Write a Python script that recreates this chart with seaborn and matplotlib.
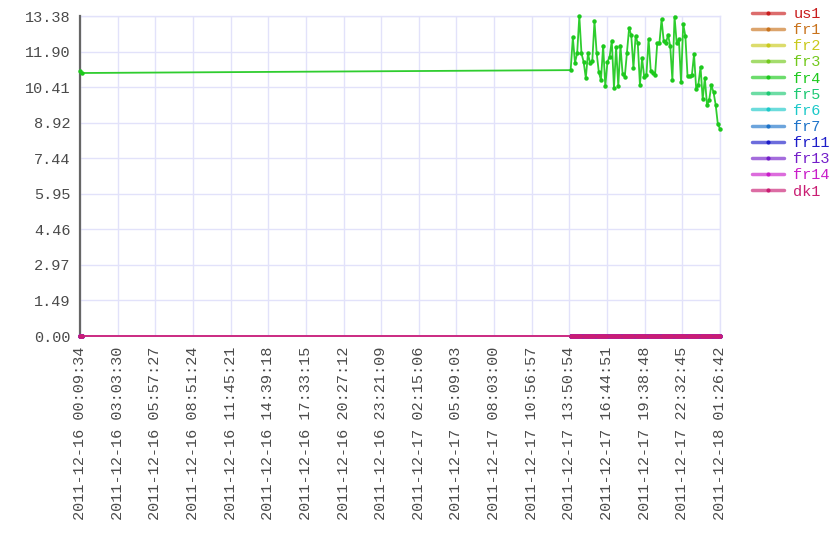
import matplotlib
matplotlib.use("Agg")
import matplotlib.pyplot as plt
from matplotlib.lines import Line2D
import matplotlib.colors as mcolors
import seaborn as sns
import pandas as pd
import numpy as np

# Series (servers) in legend order
servers = ["us1", "fr1", "fr2", "fr3", "fr4", "fr5", "fr6", "fr7",
           "fr11", "fr13", "fr14", "dk1"]

# Sample times: two early samples, then a run every 10 minutes
early_times = ["2011-12-16 00:09:34", "2011-12-16 00:19:34"]
late_start = "2011-12-17 13:56:42"
late_count = 70

# fr4 is the only server with non-zero values
fr4_early = [11.08, 11.00]
fr4_late = [11.12, 12.49, 11.43, 11.82, 13.384, 11.82, 11.46, 10.79, 11.82, 11.40,
            11.51, 13.16, 11.85, 11.04, 10.70, 12.15, 10.45, 11.46, 11.68, 12.35,
            10.37, 12.07, 10.45, 12.15, 10.95, 10.84, 11.85, 12.88, 12.57, 11.21,
            12.54, 12.26, 10.51, 11.62, 10.82, 10.90, 12.43, 11.09, 11.01, 10.93,
            12.24, 12.24, 13.24, 12.32, 12.24, 12.60, 12.13, 10.70, 13.36, 12.24,
            12.41, 10.62, 13.05, 12.54, 10.87, 10.87, 10.90, 11.79, 10.32, 10.51,
            11.26, 9.90, 10.79, 9.65, 9.87, 10.48, 10.20, 9.67, 8.86, 8.67]

y_max = 13.384
n_xticks = 18
n_yticks = 10

times = pd.to_datetime(early_times).append(
    pd.date_range(late_start, periods=late_count, freq="10min"))
fr4 = fr4_early + fr4_late

rows = []
for s in servers:
    vals = fr4 if s == "fr4" else [0.0] * len(times)
    for t, v in zip(times, vals):
        rows.append({"time": t, "value": v, "server": s})
df = pd.DataFrame(rows)

sns.set_theme(style="white")
plt.rcParams["font.family"] = ["Liberation Mono", "DejaVu Sans Mono"]

colors = sns.hls_palette(12, h=0.0, l=0.45, s=0.75)
palette = dict(zip(servers, colors))

def lighten(c, amt=0.35):
    c = np.array(mcolors.to_rgb(c))
    return tuple(c + (1 - c) * amt)

fig = plt.figure(figsize=(8.4, 5.6), dpi=100)
ax = fig.add_axes([80 / 840, 1 - 336 / 560, 640 / 840, 320 / 560])

sns.lineplot(data=df, x="time", y="value", hue="server", hue_order=servers,
             palette=palette, marker="o", markersize=3.2, markeredgewidth=0,
             linewidth=1.3, errorbar=None, estimator=None, sort=False,
             legend=False, ax=ax)

handles = []
for line, s in zip(ax.lines, servers):
    c = palette[s]
    line.set_color(lighten(c, 0.08))
    line.set_markerfacecolor(c)
    line.set_markeredgecolor(c)
    line.set_clip_on(False)
    line.set_zorder(4)
    handles.append(Line2D([], [], color=lighten(c, 0.35), lw=2.5, marker="o",
                          markersize=3, markerfacecolor=c, markeredgewidth=0))

ax.set_xlim(times[0], times[-1])
ax.set_ylim(0, y_max)

xt = pd.date_range(times[0], times[-1], periods=n_xticks)
ax.set_xticks(xt)
ax.set_xticklabels([t.strftime("%Y-%m-%d %H:%M:%S") for t in xt],
                   rotation=90, fontsize=11, color="#4a4a4a")
yt = np.linspace(0, y_max, n_yticks)
ax.set_yticks(yt)
ax.set_yticklabels([f"{v:.2f}" for v in yt], fontsize=11, color="#4a4a4a")
ax.set_xlabel("")
ax.set_ylabel("")
ax.tick_params(length=0)
ax.tick_params(axis="y", pad=7)
ax.tick_params(axis="x", pad=8)

ax.grid(True, color="#e2e2fa", linewidth=1)
ax.set_axisbelow(True)
ax.spines["left"].set_color("#666666")
ax.spines["left"].set_linewidth(1.6)
ax.spines["left"].set_zorder(3)
ax.spines["bottom"].set_visible(False)
for side in ["top", "right"]:
    ax.spines[side].set_color("#e2e2fa")
    ax.spines[side].set_linewidth(1)
    ax.spines[side].set_zorder(1)

leg = fig.legend(handles, servers, loc="upper left",
                 bbox_to_anchor=(752 / 840, 1 - 7 / 560), frameon=False,
                 fontsize=11, handlelength=2.1, handletextpad=0.6,
                 labelspacing=0.14, borderpad=0, borderaxespad=0)
for txt, s in zip(leg.get_texts(), servers):
    txt.set_color(palette[s])

fig.savefig("out.png", dpi=100)
